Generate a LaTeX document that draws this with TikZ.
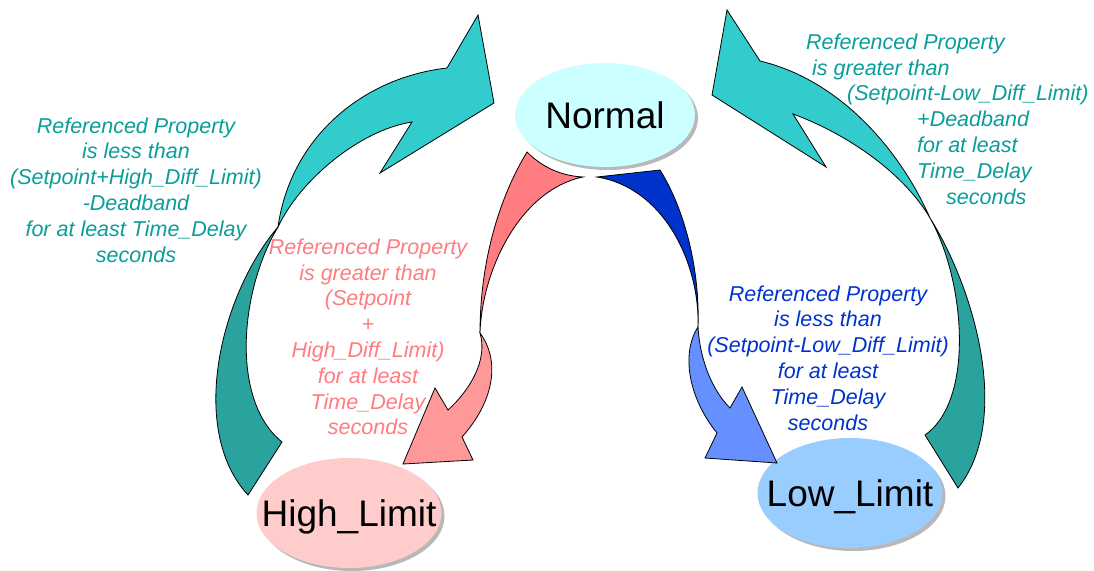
\documentclass[tikz,border=0pt]{standalone}
\usepackage{fontspec}
\setmainfont{Liberation Sans}
\usetikzlibrary{shapes.geometric,shadows}
\definecolor{normalfill}{HTML}{CCFFFF}
\definecolor{highfill}{HTML}{FFCCCC}
\definecolor{lowfill}{HTML}{99CCFF}
\definecolor{tealfront}{HTML}{33CCCC}
\definecolor{tealback}{HTML}{2AA39F}
\definecolor{redfront}{HTML}{FF7C80}
\definecolor{redback}{HTML}{FF9999}
\definecolor{bluefront}{HTML}{0033CC}
\definecolor{blueback}{HTML}{6690FF}
\definecolor{tealtext}{HTML}{0A9E9A}
\definecolor{redtext}{HTML}{FF7C80}
\definecolor{bluetext}{HTML}{0033CC}
\begin{document}
\begin{tikzpicture}[x=1pt,y=-1pt,
  state/.style={ellipse, draw=none, inner sep=0pt,
    drop shadow={shadow xshift=3pt, shadow yshift=-3pt, fill=black, opacity=0.28}},
  statetext/.style={font=\fontsize{37}{40}\selectfont, text depth=0pt, inner sep=0pt},
  band/.style={draw=black, line width=0.8pt, line join=miter},
  cond/.style={font=\fontsize{21.5}{25.8}\selectfont\itshape, inner sep=0pt},
]
\useasboundingbox (0,0) rectangle (1094,570);
\fill[white] (0,0) rectangle (1094,570);

% states
\node[state, fill=normalfill, minimum width=180pt, minimum height=104pt,
      label={[statetext]center:Normal}] (normal) at (605,115) {};
\node[state, fill=highfill, minimum width=185pt, minimum height=110pt,
      label={[statetext]center:High\_Limit}] (high) at (349,513) {};
\node[state, fill=lowfill, minimum width=185pt, minimum height=110pt,
      label={[statetext]center:Low\_Limit}] (low) at (850,493) {};

% High_Limit -> Normal (twisted teal band)
\path[band, fill=tealback] (278,227) .. controls (220,295) and (188,430) .. (248,495)
  -- (282,442) .. controls (230,400) and (240,290) .. (278,227) -- cycle;
\path[band, fill=tealfront] (278,227) .. controls (290,140) and (360,78) .. (447,68)
  -- (478,15) -- (494,103) -- (380,173) -- (412,122)
  .. controls (360,130) and (300,180) .. (278,227) -- cycle;

% Low_Limit -> Normal (twisted teal band)
\path[band, fill=tealback] (930,218) .. controls (975,290) and (1012,420) .. (958,488)
  -- (925,435) .. controls (975,400) and (965,280) .. (930,218) -- cycle;
\path[band, fill=tealfront] (930,218) .. controls (900,150) and (840,80) .. (760,61)
  -- (727,10) -- (712,95) -- (826,167) -- (793,114)
  .. controls (850,135) and (905,175) .. (930,218) -- cycle;

% Normal -> High_Limit (twisted red band)
\path[band, fill=redfront] (527,152) .. controls (545,170) and (565,176) .. (583,177)
  .. controls (520,190) and (482,270) .. (480,333)
  .. controls (480,270) and (495,205) .. (527,152) -- cycle;
\path[band, fill=redback] (480,333) .. controls (500,360) and (495,400) .. (462,437)
  -- (473,460) -- (403,464) -- (435,388) -- (448,410)
  .. controls (470,390) and (488,360) .. (480,333) -- cycle;

% Normal -> Low_Limit (twisted blue band)
\path[band, fill=bluefront] (597,177) -- (660,170)
  .. controls (685,210) and (700,270) .. (698,327)
  .. controls (700,265) and (665,188) .. (597,177) -- cycle;
\path[band, fill=blueback] (698,327) .. controls (700,360) and (712,390) .. (730,408)
  -- (742,387) -- (777,463) -- (705,458) -- (717,433)
  .. controls (690,400) and (680,355) .. (698,327) -- cycle;

% transition conditions
\node[cond, text=tealtext, align=center] (backfromhigh) at (136,190)
  {Referenced Property\\is less than\\(Setpoint+High\_Diff\_Limit)\\-Deadband\\for at least Time\_Delay\\seconds};
\node[cond, text=tealtext, align=left, anchor=west] (backfromlow) at (806,119)
  {Referenced Property\\
   \hspace*{6pt}is greater than\\
   \hspace*{41pt}(Setpoint-Low\_Diff\_Limit)\\
   \hspace*{111pt}+Deadband\\
   \hspace*{111pt}for at least\\
   \hspace*{111pt}Time\_Delay\\
   \hspace*{140pt}seconds};
\node[cond, text=redtext, align=center] (tohigh) at (368,337)
  {Referenced Property\\is greater than\\(Setpoint\\+\\High\_Diff\_Limit)\\for at least\\Time\_Delay\\seconds};
\node[cond, text=bluetext, align=center] (tolow) at (828,358)
  {Referenced Property\\is less than\\(Setpoint-Low\_Diff\_Limit)\\for at least\\Time\_Delay\\seconds};
\end{tikzpicture}
\end{document}
